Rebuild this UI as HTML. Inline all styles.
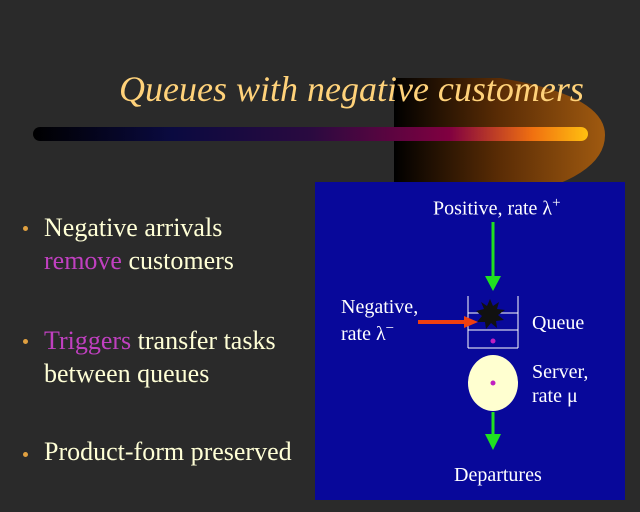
<!DOCTYPE html>
<html><head><meta charset="utf-8"><style>
body{margin:0;width:640px;height:512px;background:#2a2a2a;overflow:hidden;position:relative;font-family:"Liberation Serif",serif}
.t{position:absolute;white-space:nowrap}
.b{color:#ffffd6;font-size:26px}
.m{color:#c040c0}
.dot{position:absolute;width:5px;height:5px;border-radius:50%;background:#e0a040}
</style></head><body>
<svg width="640" height="512" style="position:absolute;left:0;top:0">
<defs>
<linearGradient id="g1" x1="0" x2="1"><stop offset="0" stop-color="#000"/><stop offset="0.25" stop-color="#0a0a40"/><stop offset="0.5" stop-color="#2a0a40"/><stop offset="0.75" stop-color="#800040"/><stop offset="0.9" stop-color="#f07010"/><stop offset="1" stop-color="#ffc010"/></linearGradient>
<linearGradient id="g2" x1="0" x2="1"><stop offset="0" stop-color="#000"/><stop offset="0.5" stop-color="#5a2c05"/><stop offset="1" stop-color="#a05a10"/></linearGradient>
</defs>
<path d="M394 78 L500 78 Q605 95 605 135 Q605 180 500 200 L394 208 Z" fill="url(#g2)"/>
<rect x="33" y="127" width="555" height="14" rx="7" fill="url(#g1)"/>
<rect x="315" y="182" width="310" height="318" fill="#08089a"/>
<line x1="493" y1="222" x2="493" y2="278" stroke="#20e020" stroke-width="3"/>
<polygon points="485,276 501,276 493,291" fill="#20e020"/>
<line x1="493" y1="412" x2="493" y2="436" stroke="#20e020" stroke-width="3"/>
<polygon points="485,434 501,434 493,450" fill="#20e020"/>
<g stroke="#fff" stroke-width="1" fill="none">
<line x1="468" y1="296" x2="468" y2="348"/><line x1="518" y1="296" x2="518" y2="348"/>
<line x1="468" y1="313" x2="518" y2="313"/><line x1="468" y1="330" x2="518" y2="330"/><line x1="468" y1="348" x2="518" y2="348"/>
</g>
<polygon points="490,299 493,306 499,302 497,309 505,310 498,315 504,320 496,321 497,328 491,323 486,329 485,322 477,322 482,316 476,311 484,309 481,302 487,306" fill="#111"/>
<line x1="418" y1="322" x2="466" y2="322" stroke="#f04010" stroke-width="4"/>
<polygon points="464,316 478,322 464,328" fill="#f04010"/>
<circle cx="493" cy="341" r="2.5" fill="#c020c0"/>
<ellipse cx="493" cy="383" rx="25" ry="28" fill="#ffffd0"/>
<circle cx="493" cy="383" r="2.5" fill="#c020c0"/>
</svg>
<div class="t" style="left:119px;top:68px;font-size:36px;font-style:italic;color:#ffd27a">Queues with negative customers</div>
<div class="dot" style="left:23px;top:226px"></div>
<div class="t b" style="left:44px;top:211px;line-height:33px">Negative arrivals<br><span class="m">remove</span> customers</div>
<div class="dot" style="left:23px;top:339px"></div>
<div class="t b" style="left:44px;top:324px;line-height:33px"><span class="m">Triggers</span> transfer tasks<br>between queues</div>
<div class="dot" style="left:23px;top:452px"></div>
<div class="t b" style="left:44px;top:437px">Product-form preserved</div>
<div class="t" style="left:433px;top:195px;font-size:20px;color:#fff">Positive, rate λ<sup style="font-size:15px">+</sup></div>
<div class="t" style="left:341px;top:294px;font-size:20px;color:#fff;line-height:27px">Negative,<br>rate λ<sup style="font-size:15px;line-height:0">−</sup></div>
<div class="t" style="left:532px;top:312px;font-size:20px;color:#fff">Queue</div>
<div class="t" style="left:532px;top:360px;font-size:20px;color:#fff;line-height:24px">Server,<br>rate μ</div>
<div class="t" style="left:454px;top:464px;font-size:20px;color:#fff">Departures</div>
</body></html>
